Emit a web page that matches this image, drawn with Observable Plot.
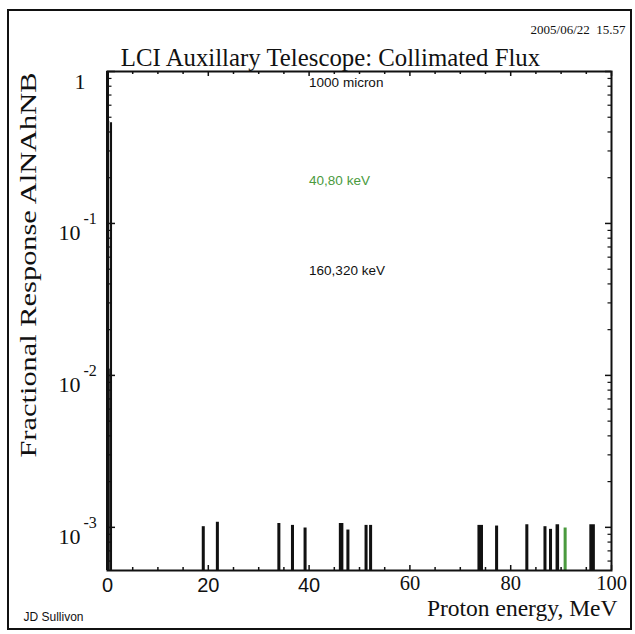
<!DOCTYPE html>
<html>
<head>
<meta charset="utf-8">
<script src="https://cdn.jsdelivr.net/npm/d3@7"></script>
<script src="https://cdn.jsdelivr.net/npm/@observablehq/plot@0.6"></script>
<style>
  html, body { margin: 0; padding: 0; background: #fff; }
  #chart { position: relative; width: 635px; height: 634px; }
  #chart svg { display: block; }
  #chart .sheet { position: absolute; left: 7px; top: 9px; width: 621px; height: 617px; border: 2px solid #111; pointer-events: none; }
</style>
</head>
<body>
<div id="chart"><div class="sheet"></div></div>
<script>
// Histogram bins (proton energy, MeV) and the fractional response in each bin
const binStart = [0, 0.45, 0.6, 18.8, 21.6, 33.8, 36.5, 39.0, 46.0, 47.5, 51.1, 52.0, 73.5, 77.0, 83.0, 86.6, 87.7, 89.0, 90.6, 95.7];
const binEnd   = [0.45, 0.6, 1.0, 19.4, 22.2, 34.4, 37.1, 39.6, 46.9, 48.1, 51.7, 52.6, 74.6, 77.6, 83.6, 87.2, 88.3, 89.7, 91.2, 96.8];
const response = [0.47, 0.011, 0.46, 1.01e-3, 1.08e-3, 1.06e-3, 1.03e-3, 0.99e-3, 1.06e-3, 0.96e-3, 1.03e-3, 1.03e-3,
                  1.03e-3, 1.02e-3, 1.04e-3, 1.01e-3, 0.97e-3, 1.04e-3, 0.99e-3, 1.04e-3];
const binSeries = ["160,320 keV", "160,320 keV", "160,320 keV", "160,320 keV", "160,320 keV", "160,320 keV", "160,320 keV",
                   "160,320 keV", "160,320 keV", "160,320 keV", "160,320 keV", "160,320 keV", "160,320 keV", "160,320 keV",
                   "160,320 keV", "160,320 keV", "160,320 keV", "160,320 keV", "40,80 keV", "160,320 keV"];

// Legend entries: label, series, anchor position (MeV, response)
const legendText = ["1000 micron", "40,80 keV", "160,320 keV"];
const legendSeries = ["1000 micron", "40,80 keV", "160,320 keV"];
const legendX = [40, 40, 40];
const legendY = [0.846, 0.192, 0.049];

// Axis ticks
const xTicks = [0, 20, 40, 60, 80, 100];
const xMinorTicks = [5, 10, 15, 25, 30, 35, 45, 50, 55, 65, 70, 75, 85, 90, 95];
const yTicks = [1, 0.1, 0.01, 0.001];
const yTickBase = ["1", "10", "10", "10"];
const yTickExp = ["", "-1", "-2", "-3"];

const title = "LCI Auxillary Telescope: Collimated Flux";
const stamp = "2005/06/22  15.57";
const xLabel = "Proton energy, MeV";
const yLabel = "Fractional Response AlNAhNB";
const author = "JD Sullivon";

const seriesNames = ["1000 micron", "40,80 keV", "160,320 keV"];
const seriesColors = ["#111111", "#4a9a3e", "#111111"];

const W = 635, H = 634;
const margin = {top: 71, right: 24, bottom: 64, left: 107};
const xDomain = [0, 100];
const yDomain = [5.2e-4, 1];

// pixel lengths for inward ticks, expressed in data units
const pxPerMeV = (W - margin.left - margin.right) / (xDomain[1] - xDomain[0]);
const pxPerDecade = (H - margin.top - margin.bottom) / Math.log10(yDomain[1] / yDomain[0]);
const xLen = px => px / pxPerMeV;
const yShift = (v, px) => v * 10 ** (px / pxPerDecade);

const yMinorTicks = d3.range(-4, 0)
  .flatMap(e => d3.range(2, 10).map(m => m * 10 ** e))
  .filter(v => v >= yDomain[0] && v <= yDomain[1]);

const bins = binStart.map((x1, i) => ({x1, x2: binEnd[i], y: response[i], series: binSeries[i]}));
const legend = legendText.map((text, i) => ({text, series: legendSeries[i], x: legendX[i], y: legendY[i]}));
const yTickRows = yTicks.map((v, i) => ({v, base: yTickBase[i], exp: yTickExp[i]}));

const serif = "'Liberation Serif', 'Times New Roman', serif";
const sans = "'Liberation Sans', Arial, sans-serif";
const ink = "#111";

const chart = Plot.plot({
  width: W,
  height: H,
  marginTop: margin.top,
  marginRight: margin.right,
  marginBottom: margin.bottom,
  marginLeft: margin.left,
  style: {background: "transparent"},
  x: {domain: xDomain, axis: null},
  y: {type: "log", domain: yDomain, axis: null},
  color: {domain: seriesNames, range: seriesColors},
  marks: [
    // histogram bars
    Plot.rect(bins, {x1: "x1", x2: "x2", y1: yDomain[0], y2: "y", fill: "series"}),

    // plot frame
    Plot.frame({stroke: ink, strokeWidth: 2}),
    Plot.ruleX([xDomain[0]], {stroke: ink, strokeWidth: 3}),

    // inward ticks: y (left and right)
    Plot.ruleY(yTicks, {x1: xDomain[0], x2: xLen(8), stroke: ink, strokeWidth: 1.5}),
    Plot.ruleY(yMinorTicks, {x1: xDomain[0], x2: xLen(4.5), stroke: ink, strokeWidth: 1.2}),
    Plot.ruleY(yTicks, {x1: xDomain[1] - xLen(6), x2: xDomain[1], stroke: ink, strokeWidth: 1.5}),
    Plot.ruleY(yMinorTicks, {x1: xDomain[1] - xLen(3.5), x2: xDomain[1], stroke: ink, strokeWidth: 1.2}),

    // inward ticks: x (bottom and top)
    Plot.ruleX(xTicks, {y1: yDomain[0], y2: yShift(yDomain[0], 5), stroke: ink, strokeWidth: 1.5}),
    Plot.ruleX(xMinorTicks, {y1: yDomain[0], y2: yShift(yDomain[0], 3), stroke: ink, strokeWidth: 1.5}),
    Plot.ruleX(xTicks, {y1: yDomain[1], y2: yShift(yDomain[1], -5), stroke: ink, strokeWidth: 1.5}),
    Plot.ruleX(xMinorTicks, {y1: yDomain[1], y2: yShift(yDomain[1], -3), stroke: ink, strokeWidth: 1.5}),

    // y tick labels: 1, 10^-1, 10^-2, 10^-3
    Plot.text(yTickRows.filter(d => d.exp === ""), {
      y: "v", text: "base", frameAnchor: "left", dx: -22, dy: 17, textAnchor: "end", lineAnchor: "bottom",
      fontFamily: serif, fontSize: 22, fill: ink
    }),
    Plot.text(yTickRows.filter(d => d.exp !== ""), {
      y: "v", text: "base", frameAnchor: "left", dx: -27, dy: 17, textAnchor: "end", lineAnchor: "bottom",
      fontFamily: serif, fontSize: 22, fill: ink
    }),
    Plot.text(yTickRows.filter(d => d.exp !== ""), {
      y: "v", text: "exp", frameAnchor: "left", dx: -24, dy: 1, textAnchor: "start", lineAnchor: "bottom",
      fontFamily: serif, fontSize: 16, fill: ink
    }),

    // x tick labels
    Plot.text(xTicks.filter(v => v < 60), {
      x: d => d, text: d => String(d), frameAnchor: "bottom", dy: 21, lineAnchor: "bottom",
      fontFamily: sans, fontSize: 20, fill: ink
    }),
    Plot.text(xTicks.filter(v => v >= 60), {
      x: d => d, text: d => String(d), frameAnchor: "bottom", dy: 19, lineAnchor: "bottom",
      fontFamily: serif, fontSize: 20.5, fill: ink
    }),

    // legend labels
    Plot.text(legend, {
      x: "x", y: "y", text: "text", fill: "series", textAnchor: "start", lineAnchor: "middle",
      fontFamily: sans, fontSize: 13.5
    }),

    // titles and labels
    Plot.text([title], {
      text: d => d, frameAnchor: "top", dx: -29, dy: -6, lineAnchor: "bottom",
      fontFamily: serif, fontSize: 24.8, fill: ink
    }),
    Plot.text([stamp], {
      text: d => d, frameAnchor: "top-right", dx: 14, dy: -38, textAnchor: "end", lineAnchor: "bottom",
      fontFamily: serif, fontSize: 13, fill: ink
    }),
    Plot.text([xLabel], {
      text: d => d, frameAnchor: "bottom-right", dx: 6, dy: 45, textAnchor: "end", lineAnchor: "bottom",
      fontFamily: serif, fontSize: 23.5, fill: ink
    }),
    Plot.text([yLabel], {
      text: d => d, frameAnchor: "left", dx: -79, dy: -56, rotate: -90, textAnchor: "middle", lineAnchor: "middle",
      fontFamily: serif, fontSize: 23, fill: ink
    }),
    Plot.text([author], {
      text: d => d, frameAnchor: "bottom-left", dx: -84, dy: 50, textAnchor: "start", lineAnchor: "bottom",
      fontFamily: sans, fontSize: 12, fill: ink
    })
  ]
});

// stretch the vertical axis title to span the frame height
for (const t of chart.querySelectorAll("text")) {
  if (t.textContent === yLabel) {
    t.setAttribute("textLength", 385);
    t.setAttribute("lengthAdjust", "spacingAndGlyphs");
  }
}

document.getElementById("chart").prepend(chart);
</script>
</body>
</html>
